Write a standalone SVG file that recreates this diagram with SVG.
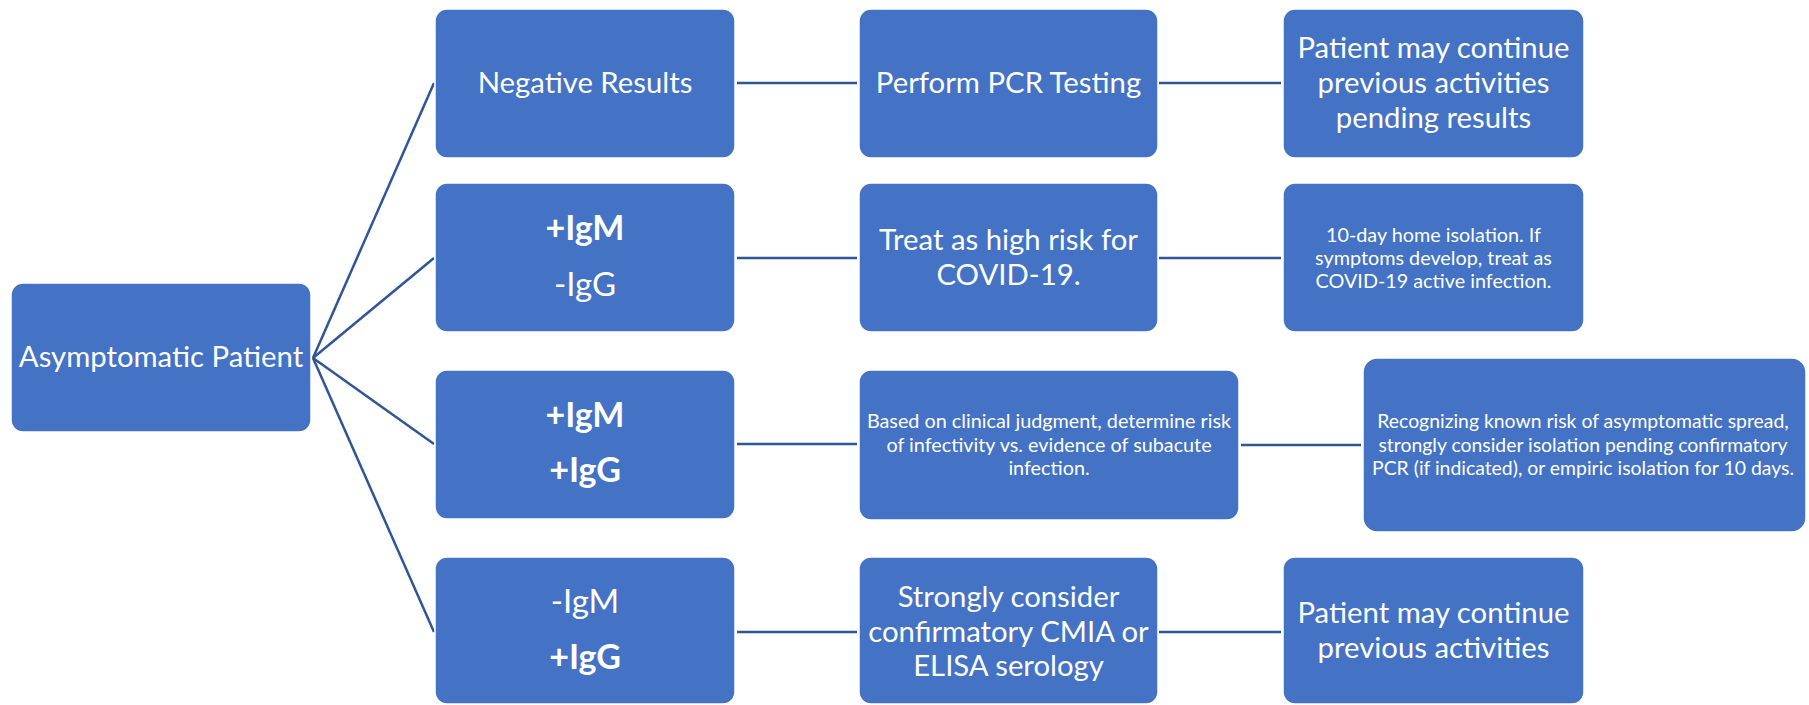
<svg xmlns="http://www.w3.org/2000/svg" width="1809" height="705" viewBox="0 0 1809 705">
<style>
.box{fill:#4472C4;stroke:#ffffff;stroke-width:1.5}
.t{fill:#ffffff;font-family:Lato,"Liberation Sans",sans-serif;text-anchor:middle}
.l{font-size:29.3px}
.s{font-size:19.8px}
.b{font-weight:bold;font-size:34px}
.r{font-size:33px}
.c{stroke:#2F5597;stroke-width:2.5;fill:none}
</style>
<rect width="1809" height="705" fill="#ffffff"/>
<g id="connectors">
<line class="c" x1="313" y1="358" x2="434" y2="83"/>
<line class="c" x1="313" y1="358" x2="434" y2="258"/>
<line class="c" x1="313" y1="358" x2="434" y2="444"/>
<line class="c" x1="313" y1="358" x2="434" y2="632"/>
<line class="c" x1="737" y1="83" x2="857" y2="83"/>
<line class="c" x1="737" y1="258" x2="857" y2="258"/>
<line class="c" x1="737" y1="444" x2="857" y2="444"/>
<line class="c" x1="737" y1="632" x2="857" y2="632"/>
<line class="c" x1="1159" y1="83" x2="1281" y2="83"/>
<line class="c" x1="1159" y1="258" x2="1281" y2="258"/>
<line class="c" x1="1241" y1="445" x2="1361" y2="445"/>
<line class="c" x1="1159" y1="632" x2="1281" y2="632"/>
</g>
<g id="asymptomatic">
<rect class="box" x="11" y="283" width="300" height="149" rx="12"/>
<text class="t l" x="161" y="367">Asymptomatic Patient</text>
</g>
<g id="negative">
<rect class="box" x="435" y="9" width="300" height="149" rx="12"/>
<text class="t l" x="585" y="93">Negative Results</text>
</g>
<g id="pcr">
<rect class="box" x="859" y="9" width="299" height="149" rx="12"/>
<text class="t l" x="1008.5" y="93">Perform PCR Testing</text>
</g>
<g id="continue-pending">
<rect class="box" x="1283" y="9" width="301" height="149" rx="12"/>
<text class="t l" x="1433.5" y="58">Patient may continue</text>
<text class="t l" x="1433.5" y="93">previous activities</text>
<text class="t l" x="1433.5" y="128">pending results</text>
</g>
<g id="igm-pos-igg-neg">
<rect class="box" x="435" y="183" width="300" height="149" rx="12"/>
<text class="t b" x="585" y="240">+IgM</text>
<text class="t r" x="585" y="296">-IgG</text>
</g>
<g id="high-risk">
<rect class="box" x="859" y="183" width="299" height="149" rx="12"/>
<text class="t l" x="1008.5" y="250">Treat as high risk for</text>
<text class="t l" x="1008.5" y="285">COVID-19.</text>
</g>
<g id="home-isolation">
<rect class="box" x="1283" y="183" width="301" height="149" rx="12"/>
<text class="t s" x="1433.5" y="242">10-day home isolation. If</text>
<text class="t s" x="1433.5" y="265">symptoms develop, treat as</text>
<text class="t s" x="1433.5" y="288">COVID-19 active infection.</text>
</g>
<g id="igm-pos-igg-pos">
<rect class="box" x="435" y="370" width="300" height="149" rx="12"/>
<text class="t b" x="585" y="427">+IgM</text>
<text class="t b" x="585" y="482">+IgG</text>
</g>
<g id="clinical-judgment">
<rect class="box" x="859" y="370" width="380" height="150" rx="12"/>
<text class="t s" x="1049" y="428">Based on clinical judgment, determine risk</text>
<text class="t s" x="1049" y="452">of infectivity vs. evidence of subacute</text>
<text class="t s" x="1049" y="475">infection.</text>
</g>
<g id="recognizing">
<rect class="box" x="1363" y="358" width="443" height="174" rx="14"/>
<text class="t s" x="1583" y="428" style="font-size:19.4px">Recognizing known risk of asymptomatic spread,</text>
<text class="t s" x="1583" y="452" style="font-size:19.4px">strongly consider isolation pending confirmatory</text>
<text class="t s" x="1583" y="475" style="font-size:19.4px">PCR (if indicated), or empiric isolation for 10 days.</text>
</g>
<g id="igm-neg-igg-pos">
<rect class="box" x="435" y="557" width="300" height="147" rx="12"/>
<text class="t r" x="585" y="613">-IgM</text>
<text class="t b" x="585" y="669">+IgG</text>
</g>
<g id="confirmatory">
<rect class="box" x="859" y="557" width="299" height="147" rx="12"/>
<text class="t l" x="1008.5" y="607">Strongly consider</text>
<text class="t l" x="1008.5" y="642">confirmatory CMIA or</text>
<text class="t l" x="1008.5" y="676">ELISA serology</text>
</g>
<g id="continue">
<rect class="box" x="1283" y="557" width="301" height="147" rx="12"/>
<text class="t l" x="1433.5" y="623">Patient may continue</text>
<text class="t l" x="1433.5" y="658">previous activities</text>
</g>
</svg>
